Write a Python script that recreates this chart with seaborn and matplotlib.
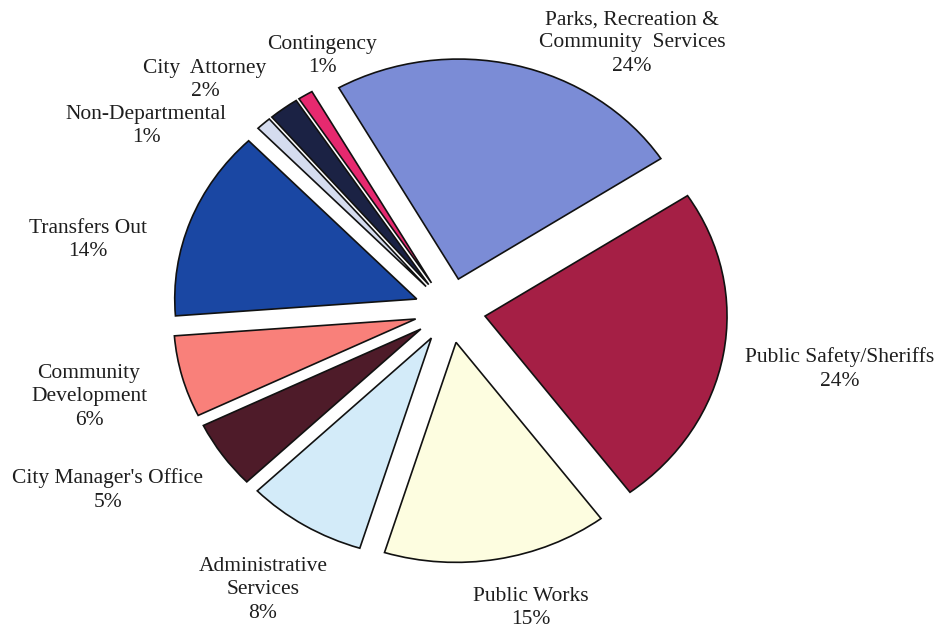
import matplotlib
matplotlib.use("Agg")
import matplotlib.pyplot as plt
import seaborn as sns

# General fund expenditures by department (percent of total), clockwise from the top
departments = [
    "Parks, Recreation &\nCommunity  Services",
    "Public Safety/Sheriffs",
    "Public Works",
    "Administrative\nServices",
    "City Manager's Office",
    "Community\nDevelopment",
    "Transfers Out",
    "Non-Departmental",
    "City  Attorney",
    "Contingency",
]
shares = [24, 24, 15, 8, 5, 6, 14, 1, 2, 1]
slice_colors = [
    "#7b8cd6", "#a51f45", "#fdfde0", "#d3ebf9", "#4e1b29",
    "#f9807a", "#1a47a3", "#d5dcef", "#1b2244", "#e6296f",
]

# Label anchor points (figure pixels from top-left)
label_pos = [
    (632, 43), (840, 369), (531, 608), (263, 590), (108, 490),
    (89, 397), (88, 240), (146, 126), (205, 80), (322, 56),
]

sns.set_theme(style="white")
plt.rcParams["font.family"] = ["Liberation Serif", "DejaVu Serif"]

W, H, DPI = 939, 631, 100
fig = plt.figure(figsize=(W / DPI, H / DPI), dpi=DPI)
ax = fig.add_axes([0, 0, 1, 1])

palette = sns.color_palette(slice_colors)
ax.pie(
    shares,
    colors=palette,
    startangle=119.6,
    counterclock=False,
    explode=[0.147] * len(shares),
    wedgeprops=dict(edgecolor="#111111", linewidth=1.2),
)

# Slightly flattened pie: horizontal radius 242 px, vertical radius 220 px
cx, cy = 450, 310.5
rx, ry = 242.0, 220.0
ax.set_aspect("auto")
ax.set_xlim(-cx / rx, (W - cx) / rx)
ax.set_ylim(-(H - cy) / ry, cy / ry)
ax.axis("off")

for name, val, (px, py) in zip(departments, shares, label_pos):
    fig.text(px / W, 1 - py / H, f"{name}\n{val}%", ha="center", va="center",
             fontsize=15.5, color="#1e1e1e", linespacing=1.3)

fig.savefig("out.png", dpi=DPI, facecolor="white")
